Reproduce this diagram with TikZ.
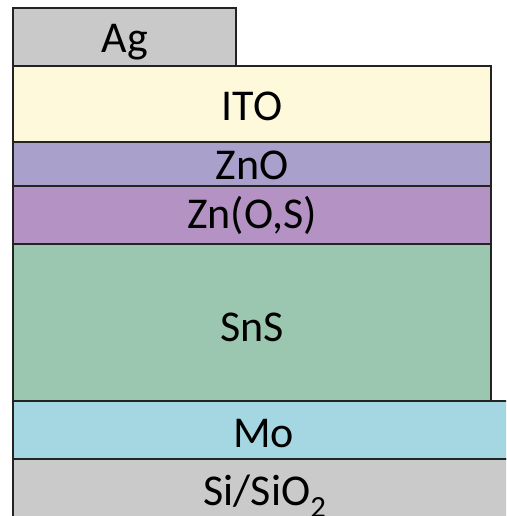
\documentclass[tikz,border=0pt]{standalone}
\usepackage{fontspec}
\setmainfont{Carlito}
\usepackage{tikz}
\usetikzlibrary{positioning}
\definecolor{agcol}{RGB}{201,201,201}
\definecolor{itocol}{RGB}{255,249,220}
\definecolor{znocol}{RGB}{170,160,204}
\definecolor{znscol}{RGB}{180,147,196}
\definecolor{snscol}{RGB}{155,198,176}
\definecolor{mocol}{RGB}{165,215,227}
\definecolor{sicol}{RGB}{202,202,202}
\definecolor{edgecol}{RGB}{35,35,35}

\begin{document}
\begin{tikzpicture}
[x=1pt,y=1pt,
layer/.style={rectangle,draw=edgecol,line width=1.6pt,
inner sep=0pt,anchor=center},
lbl/.style={anchor=base,inner sep=0pt,text=black,
font=\fontsize{44}{52}\selectfont}]
\useasboundingbox (0,0) rectangle (506,516);
\clip (0,0) rectangle (506,516);
% stack, bottom to top
\node at (264,21.5) [layer,fill=sicol,minimum width=502pt,minimum height=71pt] (si){};
\node at (264,86) [layer,fill=mocol,minimum width=502pt,minimum height=58pt] (mo){};
\node at (252,193.5) [layer,fill=snscol,minimum width=478pt,minimum height=157pt] (sns){};
\node at (252,301) [layer,fill=znscol,minimum width=478pt,minimum height=58pt] (zns){};
\node at (252,352) [layer,fill=znocol,minimum width=478pt,minimum height=44pt] (zno){};
\node at (252,412) [layer,fill=itocol,minimum width=478pt,minimum height=76pt] (ito){};
\node at (124.5,479) [layer,fill=agcol,minimum width=223pt,minimum height=58pt] (ag){};
% labels
\node at (125,463) [lbl] (agtext){Ag};
\node at (252,395) [lbl] (itotext){ITO};
\node at (252,336.5) [lbl] (znotext){ZnO};
\node at (252,287) [lbl] (znstext){Zn(O,S)};
\node at (252,174) [lbl] (snstext){SnS};
\node at (263.5,68) [lbl] (motext){Mo};
\node at (265,10) [lbl] (sitext){Si/SiO\textsubscript{2}};
\end{tikzpicture}
\end{document}
